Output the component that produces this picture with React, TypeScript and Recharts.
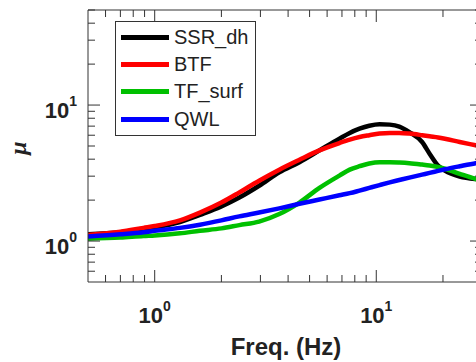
import React from 'react';
import { LineChart, Line, XAxis, YAxis, Legend, ReferenceLine } from 'recharts';

// frequencies (Hz)
const freq = [0.5, 0.7, 0.89, 1.0, 1.3, 1.6, 2.0, 2.41, 2.96, 3.65, 4.5, 5.54, 6.82, 7.59, 8.4, 9.3, 10.35, 11.5, 12.7, 14.1, 16.1, 17.4, 19.0, 20.4, 23.8, 28.1, 30];
const ssrDh = [1.12, 1.16, 1.22, 1.26, 1.38, 1.56, 1.8, 2.09, 2.55, 3.2, 3.8, 4.64, 5.66, 6.24, 6.7, 7.05, 7.23, 7.18, 6.95, 6.33, 5.35, 4.39, 3.59, 3.3, 2.98, 2.86, 2.84];
const btf = [1.11, 1.17, 1.25, 1.29, 1.42, 1.62, 1.92, 2.28, 2.78, 3.35, 3.96, 4.64, 5.26, 5.57, 5.82, 6.0, 6.17, 6.24, 6.24, 6.17, 6.0, 5.89, 5.78, 5.66, 5.35, 5.06, 4.95];
const tfSurf = [1.04, 1.06, 1.09, 1.1, 1.14, 1.19, 1.24, 1.31, 1.39, 1.58, 1.92, 2.46, 3.03, 3.35, 3.55, 3.72, 3.8, 3.8, 3.78, 3.74, 3.65, 3.59, 3.5, 3.4, 3.12, 2.86, 2.78];
const qwl = [1.08, 1.12, 1.16, 1.19, 1.25, 1.32, 1.42, 1.52, 1.62, 1.74, 1.88, 2.02, 2.17, 2.25, 2.35, 2.46, 2.58, 2.7, 2.81, 2.93, 3.08, 3.17, 3.28, 3.37, 3.55, 3.74, 3.8];

const seriesNames = ['SSR_dh', 'BTF', 'TF_surf', 'QWL'];
const seriesKeys = ['ssr', 'btf', 'tf', 'qwl'];
const seriesColors = ['#000000', '#ff0000', '#00c000', '#0000ff'];

const xTicks = [0.6, 0.7, 0.8, 0.9, 1, 2, 3, 4, 5, 6, 7, 8, 9, 10, 20, 30];
const yTicks = [0.6, 0.7, 0.8, 0.9, 1, 2, 3, 4, 5, 6, 7, 8, 9, 10, 20, 30, 40, 50];
const majorTicks = [1, 10];

const data = freq.map((f, i) => ({ f, ssr: ssrDh[i], btf: btf[i], tf: tfSurf[i], qwl: qwl[i] }));

const FONT = '"Liberation Sans", Arial, Helvetica, sans-serif';
const AXIS = '#333';
// plot box size in px (used to mirror ticks onto the top / right edges)
const PLOT_H = 272;
const PLOT_W = 394;

const Pow = ({ x, y, anchor, v }: any) => (
  <text x={x} y={y} textAnchor={anchor} fontFamily={FONT} fontWeight="bold" fontSize={22} fill="#222">
    10
    <tspan dy={-12} fontSize={14}>{Math.round(Math.log10(v))}</tspan>
  </text>
);

const XTick = ({ x, y, payload }: any) => {
  const v = payload.value;
  const major = majorTicks.includes(v);
  const len = major ? 12 : 7;
  const top = y - PLOT_H;
  return (
    <g>
      <line x1={x} y1={y} x2={x} y2={y - len} stroke={AXIS} />
      <line x1={x} y1={top} x2={x} y2={top + len} stroke={AXIS} />
      {major && <Pow x={x} y={y + 41} anchor="middle" v={v} />}
    </g>
  );
};

const YTick = ({ x, y, payload }: any) => {
  const v = payload.value;
  const major = majorTicks.includes(v);
  const len = major ? 12 : 7;
  const right = x + PLOT_W;
  return (
    <g>
      <line x1={x} y1={y} x2={x + len} y2={y} stroke={AXIS} />
      <line x1={right} y1={y} x2={right - len} y2={y} stroke={AXIS} />
      {major && <Pow x={x - 11} y={y + 13} anchor="end" v={v} />}
    </g>
  );
};

const renderLegend = () => (
  <div style={{ border: `1px solid ${AXIS}`, background: '#fff', width: 141, height: 115, paddingTop: 2, boxSizing: 'border-box' }}>
    {seriesNames.map((name, i) => (
      <div key={name} style={{ display: 'flex', alignItems: 'center', height: 27.2 }}>
        <div style={{ width: 48, height: 5, background: seriesColors[i], marginLeft: 5, marginRight: 5 }} />
        <span style={{ fontFamily: FONT, fontSize: 20, color: '#222' }}>{name}</span>
      </div>
    ))}
  </div>
);

export default function App() {
  return (
    <div style={{ position: 'fixed', left: 0, top: 0, width: 476, height: 362, overflow: 'hidden', background: '#fff' }}>
      <LineChart width={520} height={362} data={data} margin={{ top: 10, right: 38, bottom: 0, left: 0 }}>
        <XAxis
          dataKey="f"
          type="number"
          scale="log"
          domain={[0.5, 30]}
          allowDataOverflow
          ticks={xTicks}
          interval={0}
          height={80}
          tickSize={0}
          tickMargin={0}
          stroke={AXIS}
          tick={(p: any) => <XTick {...p} />}
          label={() => (
            <text x={286} y={355} textAnchor="middle" fontFamily={FONT} fontWeight="bold" fontSize={24} fill="#222">
              Freq. (Hz)
            </text>
          )}
        />
        <YAxis
          type="number"
          scale="log"
          domain={[0.5, 50]}
          allowDataOverflow
          ticks={yTicks}
          interval={0}
          width={88}
          tickSize={0}
          tickMargin={0}
          stroke={AXIS}
          tick={(p: any) => <YTick {...p} />}
          label={() => (
            <text x={26} y={148} transform="rotate(-90 26 148)" textAnchor="middle" fontFamily='"Liberation Serif", serif' fontStyle="italic" fontWeight="bold" fontSize={24} fill="#222">
              μ
            </text>
          )}
        />
        <ReferenceLine y={50} stroke={AXIS} />
        <ReferenceLine x={30} stroke={AXIS} />
        <Legend
          layout="vertical"
          align="center"
          verticalAlign="middle"
          content={renderLegend}
          wrapperStyle={{ left: 115, top: 21, width: 141, height: 115 }}
        />
        {seriesKeys.map((k, i) => (
          <Line
            key={k}
            type="monotone"
            dataKey={k}
            name={seriesNames[i]}
            stroke={seriesColors[i]}
            strokeWidth={4.5}
            dot={false}
            isAnimationActive={false}
          />
        ))}
      </LineChart>
    </div>
  );
}
